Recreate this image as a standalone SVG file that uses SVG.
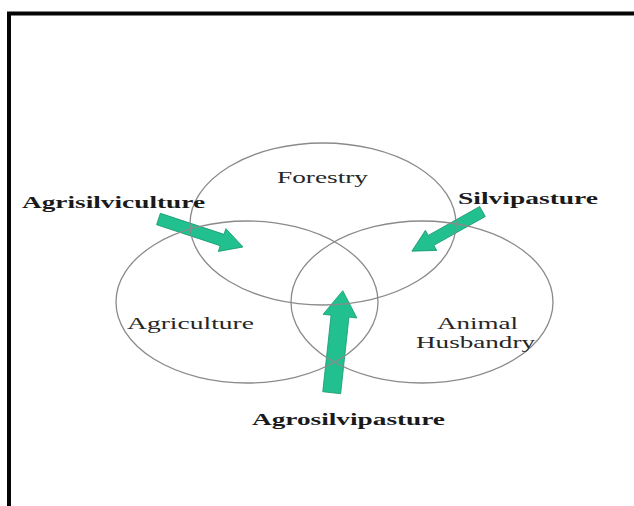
<svg xmlns="http://www.w3.org/2000/svg" width="634" height="506" viewBox="0 0 634 506">
  <style>
    .set { fill: none; stroke: #8a8a8a; stroke-width: 1.3; }
    .lbl { font-family: "Liberation Serif", "Times New Roman", serif; font-size: 17.5px; fill: #262626; }
    .tag { font-family: "Liberation Serif", "Times New Roman", serif; font-size: 17px; font-weight: bold; fill: #1a1a1a; }
    .arrow { fill: #22c08f; stroke: #199a72; stroke-width: 0.8; stroke-linejoin: miter; }
  </style>

  <rect width="634" height="506" fill="#ffffff"/>
  <!-- frame: only top and left edges fall inside the canvas -->
  <rect x="9" y="13.5" width="640" height="510" fill="none" stroke="#050505" stroke-width="4"/>

  <!-- connectors: block arrows pointing into the overlaps -->
  <g id="connectors">
    <path class="arrow" transform="translate(158.5,219) rotate(18.3)" d="M0,-6 L67,-6 L67,-12 L89,0 L67,12 L67,6 L0,6 Z"/>
    <path class="arrow" transform="translate(482.5,211.5) rotate(150.7)" d="M0,-5.7 L59,-5.7 L59,-11.5 L81,0 L59,11.5 L59,5.7 L0,5.7 Z"/>
    <path class="arrow" transform="translate(331.7,392.7) rotate(-83.8)" d="M0,-9 L77,-9 L77,-17 L102.6,0 L77,17 L77,9 L0,9 Z"/>
  </g>

  <g id="forestry">
    <ellipse class="set" cx="323" cy="224" rx="133" ry="81"/>
    <text class="lbl" x="277" y="183" textLength="91" lengthAdjust="spacingAndGlyphs">Forestry</text>
  </g>

  <g id="agriculture">
    <ellipse class="set" cx="247" cy="302" rx="131" ry="81"/>
    <text class="lbl" x="127" y="329" textLength="127" lengthAdjust="spacingAndGlyphs">Agriculture</text>
  </g>

  <g id="animal-husbandry">
    <ellipse class="set" cx="422" cy="302" rx="131" ry="81"/>
    <text class="lbl" x="437" y="329" textLength="81" lengthAdjust="spacingAndGlyphs">Animal</text>
    <text class="lbl" x="416" y="348" textLength="119" lengthAdjust="spacingAndGlyphs">Husbandry</text>
  </g>

  <g id="agrisilviculture">
    <text class="tag" x="22" y="208" textLength="183" lengthAdjust="spacingAndGlyphs">Agrisilviculture</text>
  </g>

  <g id="silvipasture">
    <text class="tag" x="458" y="204" textLength="140" lengthAdjust="spacingAndGlyphs">Silvipasture</text>
  </g>

  <g id="agrosilvipasture">
    <text class="tag" x="252" y="425" textLength="193" lengthAdjust="spacingAndGlyphs">Agrosilvipasture</text>
  </g>
</svg>
